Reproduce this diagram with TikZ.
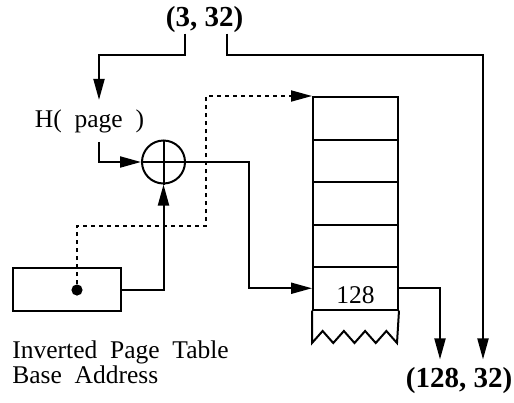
\documentclass[tikz,border=0pt]{standalone}
\usepackage{fontspec}
\setmainfont{Liberation Serif}
\usepackage{tikz}
\usetikzlibrary{arrows.meta,positioning,calc}
\tikzset{
  txt/.style={font=\fontsize{12.75}{12.5}\selectfont, inner sep=4.5pt},
  big/.style={font=\fontsize{14.5}{16}\selectfont\bfseries, inner sep=4pt},
  cell/.style={draw, line width=1pt, minimum width=42.5pt, minimum height=21.25pt, inner sep=0pt},
  basebox/.style={draw, line width=1pt, minimum width=54pt, minimum height=21.5pt, inner sep=0pt},
  xorop/.style={draw, circle, line width=1pt, minimum size=21.5pt, inner sep=0pt},
  dot/.style={circle, fill, inner sep=0pt, minimum size=5.6pt},
  arr/.style={-{Triangle[length=10.5pt,width=5.5pt]}, line width=1pt},
  dsh/.style={arr, line width=0.9pt, dash pattern=on 2pt off 2pt}
}
\begin{document}
\begin{tikzpicture}[x=0.5pt, y=-0.5pt]
\useasboundingbox (0,0) rectangle (514,402);

% labels
\node[big, inner sep=0.3pt] (in) at (204.5,19.5) {(3, 32)};
\node[big] (out) at (459,381) {(128, 32)};
\node[txt, anchor=base] (hash) at (89.5,127) {H(\ \ page\ \ )};

% xor and base register
\node[xorop] (xor) at (163.5,162) {};
\draw[line width=1pt] (xor.north) -- (xor.south) (xor.west) -- (xor.east);
\node[basebox] (base) at (67,289.5) {};
\node[dot] (ptr) at (77,290) {};
\node[txt, inner sep=0pt, align=left, below=14.3pt of base.south west, anchor=north west] (baselbl)
  {Inverted\ \ Page\ \ Table\\Base\ \ Address};

% inverted page table
\foreach \i in {1,...,5}
  \node[cell] (r\i) at (355.5,{75.75+42.5*\i}) {};
\node[txt, inner sep=0pt, anchor=base] (val) at (355.5,303) {128};
\draw[line width=1pt] (r5.south west) -- ++(0,32.5)
  \foreach \k in {1,...,4} { -- ++(10.625,-12) -- ++(10.625,12) } -- (r5.south east);

% connectors
\draw[arr] ([xshift=-9.75pt]in.south) -- ++(0,21) -| ([xshift=4.75pt]hash.north);
\draw[arr] ([xshift=11.25pt]in.south) -- ++(0,21) -| ([xshift=12pt]out.north);
\draw[arr] ([xshift=4.75pt]hash.south) |- (xor.west);
\draw[arr] (base.east) -| (xor.south);
\draw[arr] (xor.east) -- ++(63,0) |- (r5.west);
\draw[dsh] (ptr) -- ++(0,-64) -- ++(129,0) |- (r1.north west);
\draw[arr] (r5.east) -| ([xshift=-9.5pt]out.north);
\end{tikzpicture}
\end{document}
